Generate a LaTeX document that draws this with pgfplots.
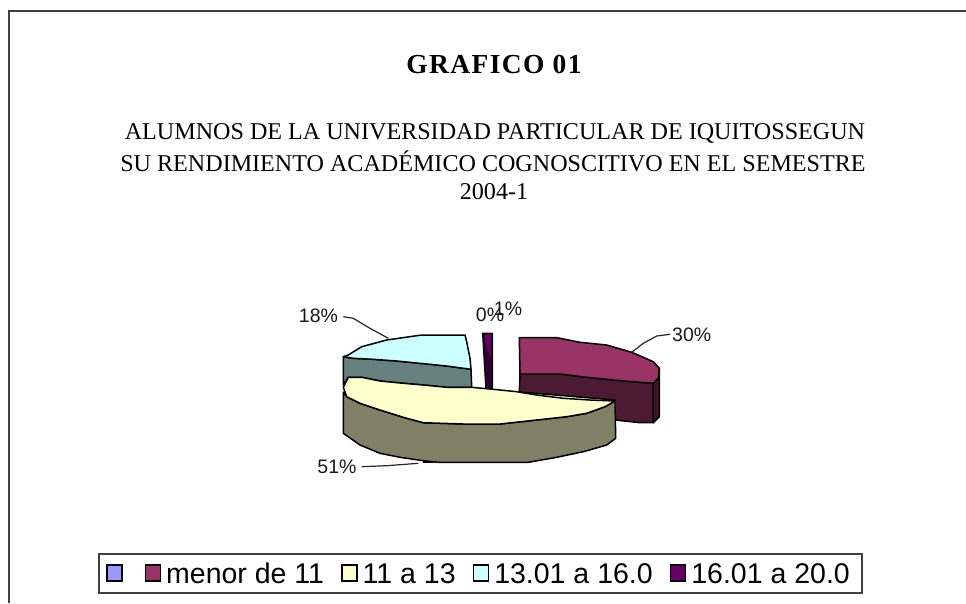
\documentclass[border=0pt]{standalone}
\usepackage{fontspec}
\setmainfont{Liberation Serif}
\newfontfamily\arial{Liberation Sans}
\newfontfamily\titlefont[LetterSpace=5]{Liberation Serif}
\usepackage{pgfplots}
\pgfplotsset{compat=1.18}
\definecolor{maroon}{HTML}{993366}
\definecolor{maroonside}{HTML}{4D1A33}
\definecolor{maroonrim}{HTML}{3D1428}
\definecolor{cream}{HTML}{FFFFCC}
\definecolor{creamside}{HTML}{808066}
\definecolor{aqua}{HTML}{CCFFFF}
\definecolor{aquaside}{HTML}{668080}
\definecolor{plum}{HTML}{660066}
\definecolor{plumside}{HTML}{330033}
\definecolor{lilac}{HTML}{9999FF}
\definecolor{framegrey}{HTML}{404040}
\tikzset{
  lbl/.style={font=\arial\fontsize{19.5}{19.5}\selectfont, inner sep=0pt, text=black!90},
  sub/.style={font=\fontsize{24.1}{24.1}\selectfont, inner sep=0pt, anchor=base},
}
\pgfplotsset{
  wedge/.style={forget plot, draw=black, line width=1.5pt, line join=round},
  leader/.style={forget plot, draw=black!85, line width=1.2pt},
  swatch/.style={legend image code/.code={\draw[draw=black, line width=1.6pt, ##1] (0pt,-8pt) rectangle (15pt,8pt);}},
}
\begin{document}
\begin{tikzpicture}
\begin{axis}[
  scale only axis, width=966pt, height=603pt,
  xmin=0, xmax=966, ymin=0, ymax=603, y dir=reverse,
  axis lines=none, clip=true,
  legend style={at={(axis cs:98,553)}, anchor=north west, draw=framegrey, line width=2pt,
    font=\arial\fontsize{28.5}{28.5}\selectfont, legend columns=5, inner xsep=7pt, inner ysep=7pt,
    nodes={text height=20.5pt, text depth=0pt},
    /tikz/every even column/.append style={column sep=15pt},
    /tikz/every odd column/.append style={column sep=3pt}},
  legend cell align=left,
]
% page and frame
\addplot[forget plot, fill=white, draw=none] coordinates {(0,0) (966,0) (966,603) (0,603)} -- cycle;
\addplot[forget plot, draw=framegrey, line width=2pt] coordinates {(8.5,603) (8.5,11) (966,11)};

% 18% slice
\addplot[wedge, fill=aquaside] coordinates {(343.3,356.7) (353.3,358.3) (373.3,359.3) (396.7,361) (420,363.3) (446.7,366) (471,369.3) (471.7,387.3) (446.7,387.3) (423.3,385) (403.3,383.3) (380,381) (361.7,377.3) (348.3,377.3) (343.3,385)} -- cycle;
\addplot[wedge, fill=aqua] coordinates {(343.3,356.7) (348.3,355) (361.7,346.7) (386.7,340) (421.7,335) (465,335) (466.7,341.7) (470,358.3) (471,369.3) (446.7,366) (420,363.3) (396.7,361) (373.3,359.3) (353.3,358.3)} -- cycle;

% 1% slice
\addplot[wedge, fill=plumside] coordinates {(482.7,333.3) (492.3,333.3) (492.3,388.3) (486,388.3)} -- cycle;
\addplot[forget plot, fill=plum, draw=none] coordinates {(484.2,334.5) (491.3,334.5) (491,358) (488.5,352) (486.5,346)} -- cycle;

% 30% slice
\addplot[wedge, fill=maroonside] coordinates {(520,374) (560,374) (586.7,377.3) (613.3,380) (640,382.3) (653.3,383.3) (653.3,422.7) (640,422.7) (615,420) (615,400) (519.3,392)} -- cycle;
\addplot[wedge, fill=maroonrim] coordinates {(653.3,383.3) (658.3,378.3) (659.3,368.3) (659.3,416.7) (653.3,422.7)} -- cycle;
\addplot[wedge, fill=maroon] coordinates {(519.3,337.7) (556.7,337.7) (580,342.3) (606.7,345) (631.7,352.3) (653.3,361.7) (659.3,368.3) (658.3,378.3) (653.3,383.3) (640,382.3) (613.3,380) (586.7,377.3) (560,374) (520,374)} -- cycle;

% 51% slice
\addplot[wedge, fill=creamside] coordinates {(615,401) (605,406.7) (586.7,413.3) (566.7,416.7) (530,420.7) (500,424) (463.3,424) (423.3,422.7) (403.3,417.3) (380,410) (360,403.3) (346.7,396.7) (343.3,392) (343.3,433.3) (360,445) (380,453.3) (400,457.3) (423.3,460.7) (438.3,462.3) (490,462.3) (528.3,462.3) (556.7,457.3) (583.3,451.7) (606.7,445) (615.7,438.3)} -- cycle;
\addplot[wedge, fill=cream] coordinates {(471.7,387.3) (493.3,389.3) (516.7,391.7) (536.7,395) (563.3,398.3) (590,400) (615,401) (605,406.7) (586.7,413.3) (566.7,416.7) (530,420.7) (500,424) (463.3,424) (423.3,422.7) (403.3,417.3) (380,410) (360,403.3) (346.7,396.7) (343.3,387.3) (348.3,377.3) (361.7,377.3) (380,381) (403.3,383.3) (423.3,385) (446.7,387.3)} -- cycle;

% leader lines
\addplot[leader] coordinates {(670,334.3) (656.7,336) (643.3,343.3) (631.7,352.3)};
\addplot[leader] coordinates {(343.3,316.7) (353.3,318.3) (370,328.3) (388.3,338.3)};
\addplot[leader] coordinates {(361.7,466.7) (386.7,465.7) (418.3,463.3)};
\addplot[forget plot, draw=black, line width=2.5pt] coordinates {(423.3,462) (434,462)};

% slice labels
\node[lbl] at (axis cs:691.7,334.5) {30\%};
\node[lbl] at (axis cs:318.5,316) {18\%};
\node[lbl] at (axis cs:337,467) {51\%};
\node[lbl] at (axis cs:490,314.5) {0\%};
\node[lbl] at (axis cs:508,308.5) {1\%};

% titles
\node[font=\titlefont\bfseries\fontsize{27.5}{27.5}\selectfont, inner sep=0pt, anchor=base] at (axis cs:494,73.5) {GRAFICO 01};
\node[sub] at (axis cs:495,139.5) {ALUMNOS DE LA UNIVERSIDAD PARTICULAR DE IQUITOSSEGUN};
\node[sub] at (axis cs:493,171.5) {SU RENDIMIENTO ACADÉMICO COGNOSCITIVO EN EL SEMESTRE};
\node[sub] at (axis cs:494,199.5) {2004-1};

% legend
\addlegendimage{swatch, fill=lilac}
\addlegendentry{}
\addlegendimage{swatch, fill=maroon}
\addlegendentry{menor de 11}
\addlegendimage{swatch, fill=cream}
\addlegendentry{11 a 13}
\addlegendimage{swatch, fill=aqua}
\addlegendentry{13.01 a 16.0}
\addlegendimage{swatch, fill=plum}
\addlegendentry{16.01 a 20.0\hspace*{3pt}}
\end{axis}
\end{tikzpicture}
\end{document}
